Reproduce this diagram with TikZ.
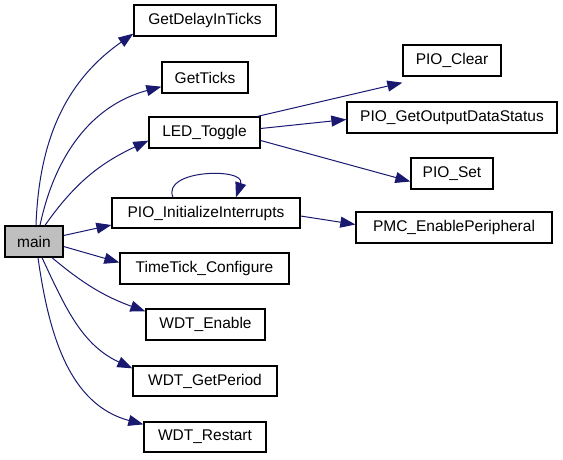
\documentclass[tikz,border=0pt]{standalone}
\usepackage{fontspec}
\setmainfont{Liberation Sans}
\usetikzlibrary{arrows.meta,calc}
\definecolor{edgeblue}{HTML}{191970}
\definecolor{maingray}{HTML}{BFBFBF}
\tikzset{
  fn/.style={draw=black, line width=1.3pt, rectangle, inner sep=0pt, font=\fontsize{15.5}{18}\selectfont},
  callarrow/.style={draw=edgeblue, line width=1pt, arrows={-Triangle[length=15pt,width=11pt]}},
}
\newcommand{\bx}[6]{\node[fn,minimum width={#4-#2}, minimum height={#5-#3}] (#1) at ({(#2+#4)/2},{-(#3+#5)/2}) {#6};}
\begin{document}
\begin{tikzpicture}[x=1pt,y=1pt]
\useasboundingbox (0,0) rectangle (563,-459);
\node[fn,fill=maingray,minimum width=58, minimum height=31] (main) at (34,-241.5) {main};
\bx{gdit}{134}{5}{276}{36}{GetDelayInTicks}
\bx{gt}{162}{62}{248}{93}{GetTicks}
\bx{led}{149}{117}{260}{148}{LED\_Toggle}
\bx{pii}{112}{198}{300}{228}{PIO\_InitializeInterrupts}
\bx{ttc}{120}{253}{289}{284}{TimeTick\_Configure}
\bx{wen}{146}{309}{265}{340}{WDT\_Enable}
\bx{wgp}{133}{366}{277}{396}{WDT\_GetPeriod}
\bx{wrs}{144}{422}{266}{452}{WDT\_Restart}
\bx{pclr}{403}{45}{501}{76}{PIO\_Clear}
\bx{pgod}{347}{102}{557}{133}{PIO\_GetOutputDataStatus}
\bx{pset}{411}{158}{493}{189}{PIO\_Set}
\bx{pmc}{356}{212}{552}{243}{PMC\_EnablePeripheral}

\draw[callarrow] ([xshift=2]main.north) to[out=88,in=215] ([yshift=3]gdit.south west);
\draw[callarrow] ([xshift=6]main.north) to[out=78,in=195] ([yshift=7]gt.south west);
\draw[callarrow] ([xshift=11]main.north) to[out=55,in=205] ([yshift=8]led.south west);
\draw[callarrow] ([yshift=6]main.east) -- ([yshift=-12]pii.west);
\draw[callarrow] ([yshift=-5]main.east) -- ([yshift=6]ttc.west);
\draw[callarrow] ([xshift=18]main.south) to[out=-40,in=160] ([yshift=-3]wen.north west);
\draw[callarrow] ([xshift=8]main.south) to[out=-65,in=155] ([yshift=-3]wgp.north west);
\draw[callarrow] ([xshift=4]main.south) to[out=-82,in=165] ([yshift=-3]wrs.north west);
\draw[callarrow] ([xshift=-3]led.north east) -- ([yshift=-6]pclr.south west);
\draw[callarrow] ([yshift=4]led.east) -- ([yshift=-2]pgod.west);
\draw[callarrow] ([yshift=-8]led.east) -- ([yshift=-8]pset.west);
\draw[callarrow] ([yshift=-3]pii.east) -- ([yshift=3]pmc.west);
\draw[callarrow] ([xshift=-33]pii.north) .. controls +(-12,28) and +(10,30) .. ([xshift=30]pii.north);
\end{tikzpicture}
\end{document}
